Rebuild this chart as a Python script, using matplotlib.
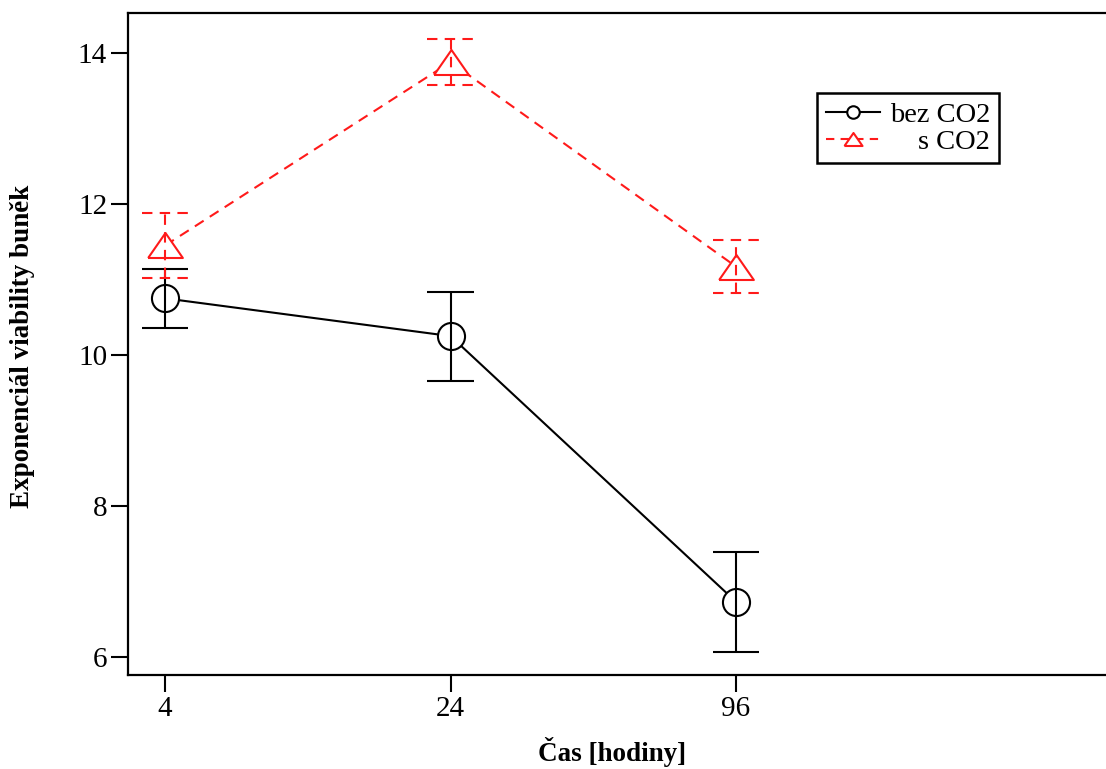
import numpy as np
import matplotlib
matplotlib.use("Agg")
import matplotlib.pyplot as plt
from matplotlib.lines import Line2D

plt.rcParams['font.family'] = ['Liberation Serif', 'DejaVu Serif']

# data
hours = ["4", "24", "96"]
bez_co2 = [10.75, 10.25, 6.73]
bez_co2_err = [0.39, 0.59, 0.66]
s_co2 = [11.45, 13.88, 11.17]
s_co2_err = [0.43, 0.30, 0.35]

x = np.arange(len(hours))
red = "#ff1a1a"
dash = (0, (5, 3.5))
tri = [(-1, -0.72), (1, -0.72), (0, 0.72), (-1, -0.72)]

fig = plt.figure(figsize=(11.06, 7.69), dpi=100)
ax = fig.add_axes([0.1157, 0.1222, 0.8843, 0.8609])

# connecting lines
ax.plot(x, bez_co2, color="black", lw=1.5, zorder=1)
ax.plot(x, s_co2, color=red, lw=1.5, ls=dash, zorder=1)
# open markers
ax.plot(x, bez_co2, ls="none", marker="o", ms=19.5,
        mfc="white", mec="black", mew=1.5, zorder=2)
ax.plot(x, s_co2, ls="none", marker=tri, ms=25,
        mfc="white", mec=red, mew=1.5, zorder=2)

# error bars drawn on top of the markers
cap = 0.082
for vals, errs, col, ls in [(bez_co2, bez_co2_err, "black", "-"),
                            (s_co2, s_co2_err, red, dash)]:
    vals = np.array(vals)
    errs = np.array(errs)
    ax.vlines(x, vals - errs, vals + errs, colors=col, linestyles=ls, lw=1.5, zorder=3)
    ax.hlines(vals + errs, x - cap, x + cap, colors=col, linestyles=ls, lw=1.5, zorder=3)
    ax.hlines(vals - errs, x - cap, x + cap, colors=col, linestyles=ls, lw=1.5, zorder=3)

ax.set_xlim(-0.13, 3.296)
ax.set_ylim(5.76, 14.53)
ax.set_xticks(x)
ax.set_xticklabels(hours)
ax.set_yticks([6, 8, 10, 12, 14])
ax.tick_params(direction="out", length=12, width=1.5, labelsize=21, pad=3)

for s in ["left", "top", "bottom"]:
    ax.spines[s].set_linewidth(1.6)
ax.spines["right"].set_visible(False)

ax.set_xlabel("Čas [hodiny]", fontsize=19.5, fontweight="bold")
ax.set_ylabel("Exponenciál viability buněk", fontsize=19.5, fontweight="bold")
ax.xaxis.set_label_coords(0.495, -0.116)
ax.yaxis.set_label_coords(-0.108, 0.497)
ax.xaxis.label.set_va("center")
ax.yaxis.label.set_va("center")

handles = [
    Line2D([], [], color="black", lw=1.5, marker="o", ms=9, mfc="white", mew=1.5),
    Line2D([], [], color=red, lw=1.5, ls=(0, (4, 3)), marker=tri, ms=13, mfc="white", mew=1.5),
]
leg = ax.legend(handles, ["bez CO2", "s CO2"], loc="upper left",
                bbox_to_anchor=(0.7045, 0.879), borderaxespad=0,
                fontsize=20.5, handlelength=1.9, handletextpad=0.35,
                labelspacing=0.05, borderpad=0.3, fancybox=False,
                framealpha=1, edgecolor="black")
leg.get_frame().set_linewidth(1.8)

# right-align the legend labels
fig.canvas.draw()
texts = leg.get_texts()
widths = [t.get_window_extent().width for t in texts]
for t, w in zip(texts, widths):
    t.set_position((max(widths) - w, 0))

fig.savefig("out.png", dpi=100)
